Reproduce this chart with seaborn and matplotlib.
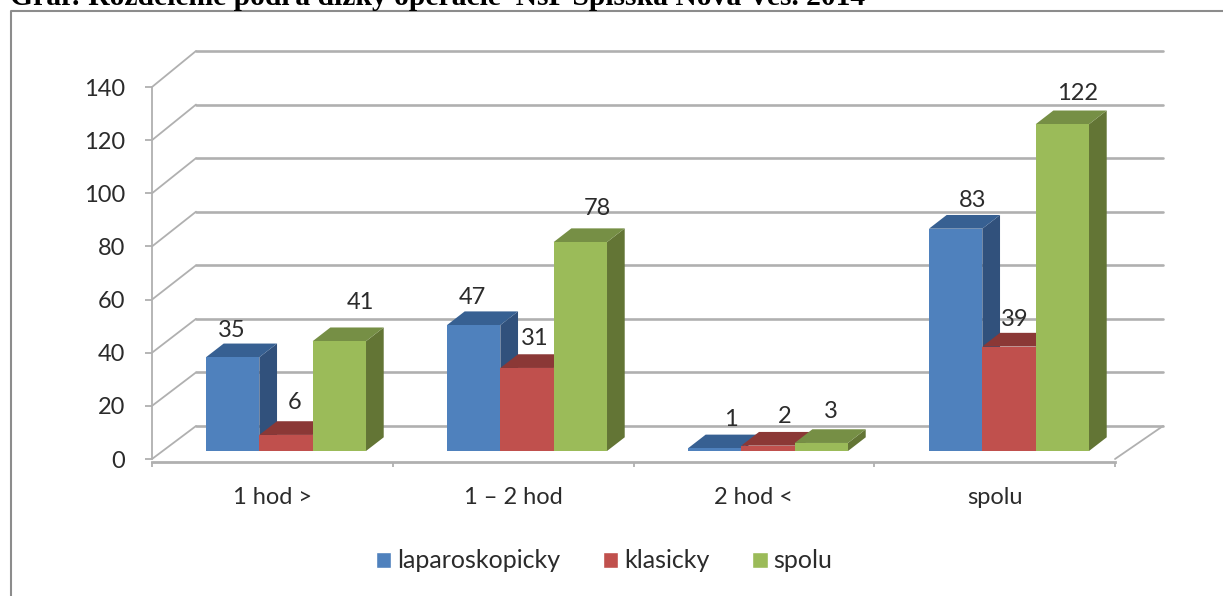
import numpy as np
import pandas as pd
import matplotlib
matplotlib.use("Agg")
import matplotlib.pyplot as plt
from matplotlib.patches import Polygon
from matplotlib.lines import Line2D
from matplotlib.transforms import offset_copy
import seaborn as sns

# ---- data ----
categories = ["1 hod >", "1 – 2 hod", "2 hod <", "spolu"]
series_names = ["laparoskopicky", "klasicky", "spolu"]
laparoskopicky = [35, 47, 1, 83]
klasicky = [6, 31, 2, 39]
spolu = [41, 78, 3, 122]
y_ticks = [0, 20, 40, 60, 80, 100, 120, 140]
title = "Graf: Rozdelenie podľa dĺžky operácie  NsP Spišská Nová Ves. 2014"

# ---- style ----
front_colors = ["#4F81BD", "#C0504D", "#9BBB59"]
top_colors = ["#376092", "#8B3836", "#768F45"]
side_colors = ["#31517C", "#7A302E", "#637535"]
grid_color = "#B0B0B0"
text_color = "#2B2B2B"
label_dx = [[-1, -1, 16.5, 16.5], [9, 8, 17, 6], [21.5, 17.5, 9.5, 15.5]]
label_dy = [[27, 28, 29, 28], [32, 29, 29, 27], [39, 34, 31, 31]]

W, H = 1223, 596
sns.set_theme(style="white")
plt.rcParams["font.family"] = ["Lato", "DejaVu Sans"]
plt.rcParams["font.size"] = 16
fig = plt.figure(figsize=(W / 100, H / 100), dpi=100, facecolor="white")


def axes_px(x0, y_top, x1, y_bottom, **kw):
    return fig.add_axes([x0 / W, 1 - y_bottom / H, (x1 - x0) / W, (y_bottom - y_top) / H], **kw)


df = pd.DataFrame({
    "cat": np.tile(categories, 3),
    "series": np.repeat(series_names, 4),
    "value": laparoskopicky + klasicky + spolu,
})

# back wall
wall = axes_px(196, 51, 1163, 426, zorder=1)
wall.set_xlim(0, 1)
wall.set_ylim(0, 140)
wall.set_yticks(y_ticks)
wall.set_xticks([])
wall.set_yticklabels([])
wall.tick_params(axis="y", length=0)
wall.grid(axis="y", color=grid_color, lw=1.9)
for s in wall.spines.values():
    s.set_visible(False)
wall.patch.set_alpha(0)
for ln in wall.get_ygridlines():
    ln.set_clip_on(False)

# front value axis
front = axes_px(152, 87, 1115, 459, zorder=2)
front.set_xlim(-0.5, 3.5)
front.set_ylim(0, 140)
front.patch.set_alpha(0)
front.set_yticks(y_ticks)
front.tick_params(axis="y", length=5, width=1.3, color=grid_color, labelsize=17,
                  labelcolor=text_color, pad=14.5, left=True)
front.set_xticks(np.arange(-0.5, 4.0, 1.0))
front.set_xticklabels([])
front.set_xticks(np.arange(4), minor=True)
front.set_xticklabels(categories, minor=True)
front.tick_params(axis="x", which="minor", length=0, pad=18, bottom=False,
                  labelsize=17, labelcolor=text_color, labelbottom=True)
front.tick_params(axis="x", which="major", length=3.5, width=1.3, color=grid_color, direction="out",
                  bottom=True, pad=0)
for side in ["top", "right"]:
    front.spines[side].set_visible(False)
front.spines["left"].set_color(grid_color)
front.spines["left"].set_linewidth(1.3)
front.spines["bottom"].set_color(grid_color)
front.spines["bottom"].set_linewidth(2.0)
front.spines["bottom"].set_position(("outward", 2.0))

# diagonals joining the front axis and the back wall
fig_tf = fig.transFigure.inverted()
for v in y_ticks:
    a = fig_tf.transform(front.transData.transform((-0.5, v)))
    b = fig_tf.transform(wall.transData.transform((0, v)))
    fig.add_artist(Line2D([a[0], b[0]], [a[1], b[1]], color=grid_color, lw=1.3, zorder=1.5))
a = fig_tf.transform(front.transData.transform((3.5, 0)))
b = fig_tf.transform(wall.transData.transform((1, 0)))
fig.add_artist(Line2D([a[0], b[0]], [a[1], b[1]], color=grid_color, lw=1.3, zorder=1.5))

# bars
ax = axes_px(165.5, 76, 1129.5, 451, zorder=3)
ax.patch.set_alpha(0)
sns.barplot(data=df, x="cat", y="value", hue="series", order=categories, hue_order=series_names,
            palette=front_colors, saturation=1, width=0.664, gap=0, ax=ax)
ax.set_xlim(-0.5, 3.5)
ax.set_ylim(0, 140)
ax.set_axis_off()
handles, labels = ax.get_legend_handles_labels()
if ax.get_legend() is not None:
    ax.get_legend().remove()

DEPTH_X = 17.7 / 241
DEPTH_Y = 13.7 / (375 / 140)
for i, cont in enumerate(ax.containers):
    for j, bar in enumerate(cont):
        x0, w, h = bar.get_x(), bar.get_width(), bar.get_height()
        x1 = x0 + w
        z = 3 + i
        bar.set_zorder(z + 0.2)
        bar.set_linewidth(0)
        ax.add_patch(Polygon([(x1, 0), (x1 + DEPTH_X, DEPTH_Y), (x1 + DEPTH_X, h + DEPTH_Y), (x1, h)],
                             closed=True, fc=side_colors[i], ec="none", zorder=z, clip_on=False))
        ax.add_patch(Polygon([(x0, h), (x0 + DEPTH_X, h + DEPTH_Y), (x1 + DEPTH_X, h + DEPTH_Y), (x1, h)],
                             closed=True, fc=top_colors[i], ec="none", zorder=z + 0.1, clip_on=False))
        ax.text(x0 + w / 2, h, str(int(h)),
                transform=offset_copy(ax.transData, fig=fig, x=label_dx[i][j], y=label_dy[i][j], units="dots"),
                ha="center", va="center", fontsize=17, color=text_color, zorder=20, clip_on=False)

# legend
fig.legend(handles, labels, loc="center", bbox_to_anchor=(604 / W, 1 - 561 / H), ncol=3, frameon=False,
           fontsize=18, labelcolor=text_color, handlelength=0.62, handleheight=0.62,
           handletextpad=0.24, columnspacing=1.7, borderpad=0)

# page frame and clipped caption
fig.add_artist(Line2D([11 / W, 11 / W, 1], [0, 1 - 10.5 / H, 1 - 10.5 / H], color="#8C8C8C", lw=1.5))
fig.text(10 / W, 1 - 5 / H, title, family="Liberation Serif", fontweight="bold", fontsize=21.3,
         color="black", ha="left", va="baseline")

fig.savefig("out.png", dpi=100, facecolor="white")
